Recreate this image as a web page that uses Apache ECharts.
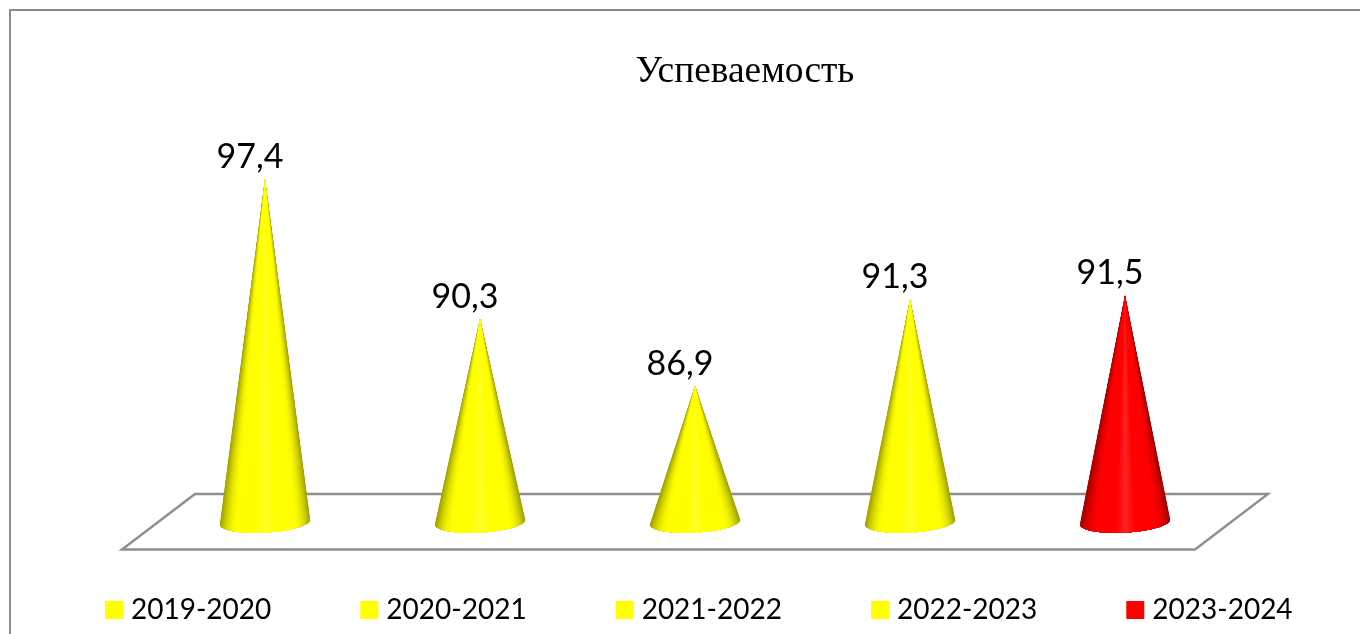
<!DOCTYPE html>
<html><head><meta charset="utf-8">
<script src="https://cdn.jsdelivr.net/npm/echarts@6/dist/echarts.min.js"></script>
<style>html,body{margin:0;padding:0;background:#fff}#c{width:1360px;height:634px}</style>
</head><body><div id="c"></div>
<script>
const categories = ['2019-2020','2020-2021','2021-2022','2022-2023','2023-2024'];
const values = [97.4, 90.3, 86.9, 91.3, 91.5];
const labels = ['97,4','90,3','86,9','91,3','91,5'];
const palette = [
  { base: [255,255,0], dark: [160,160,0], light: [255,255,40] },
  { base: [255,255,0], dark: [160,160,0], light: [255,255,40] },
  { base: [255,255,0], dark: [160,160,0], light: [255,255,40] },
  { base: [255,255,0], dark: [160,160,0], light: [255,255,40] },
  { base: [255,0,0], dark: [160,0,0], light: [255,36,36] }
];
const mix = (a, b, t) => a.map((v, k) => Math.round(v + (b[k] - v) * t));
const shade = (c, u) => {
  const au = Math.abs(u);
  const e = Math.max(0, (au - 0.62) / 0.38);
  const h = Math.max(0, 1 - au / 0.22);
  const rgb = mix(mix(c.base, c.light, h), c.dark, e * e);
  return 'rgb(' + rgb.join(',') + ')';
};
const N = 60;
const cone = (c, text) => function (params, api) {
  const cat = api.value(0), val = api.value(1);
  const tip = api.coord([cat, val]);
  const base = api.coord([cat, 80]);
  const band = api.size([1, 0])[0];
  const rx = band * 0.21, ry = 10.5;
  const t = -3.2 * Math.PI / 180;
  const pts = [];
  for (let i = 0; i <= N; i++) {
    const a = Math.PI * i / N;
    const ex = rx * Math.cos(a), ey = ry * Math.sin(a);
    pts.push([base[0] + ex * Math.cos(t) - ey * Math.sin(t),
              base[1] + ex * Math.sin(t) + ey * Math.cos(t)]);
  }
  const children = [];
  // nested fans, outermost (edge colour) first, so no seams appear between slices
  for (let i = 0; i < N / 2; i++) {
    const u = Math.cos(Math.PI * (i + 0.5) / N);
    children.push({ type: 'polygon',
      shape: { points: [[tip[0], tip[1]]].concat(pts.slice(i, N - i + 1)) },
      style: { fill: shade(c, u) } });
  }
  children.push({ type: 'text', x: tip[0] - 15, y: tip[1] - 22, style: {
    text: text, font: '34px Lato', fill: '#000', align: 'center', verticalAlign: 'middle' } });
  return { type: 'group', children };
};
const series = categories.map((name, i) => ({
  type: 'custom', name, coordinateSystem: 'cartesian2d',
  itemStyle: { color: 'rgb(' + palette[i].base.join(',') + ')' },
  renderItem: cone(palette[i], labels[i]),
  data: [[i, values[i]]], clip: false
}));
const chart = echarts.init(document.getElementById('c'), null, { renderer: 'canvas' });
chart.setOption({
  animation: false,
  backgroundColor: '#fff',
  title: { text: 'Успеваемость', left: 745, top: 54, textAlign: 'center', padding: 0,
    textStyle: { fontFamily: 'Liberation Serif', fontWeight: 'normal', fontSize: 37.4, color: '#000' } },
  grid: { left: 157.5, width: 1075, top: 128, height: 394 },
  xAxis: { type: 'category', data: categories, show: false },
  yAxis: { type: 'value', min: 80, max: 100, show: false },
  legend: { left: 105, top: 596, padding: 0, icon: 'rect', itemWidth: 18, itemHeight: 18, itemGap: 89,
    data: categories, selectedMode: false,
    textStyle: { fontFamily: 'Lato', fontSize: 28, color: '#000', padding: [0, 0, 0, 3] } },
  graphic: [
    { type: 'polygon', z: 0, silent: true, shape: { points: [[122, 549.5], [195, 494], [1268, 494], [1195, 549.5]] },
      style: { fill: 'none', stroke: '#8f8f8f', lineWidth: 2.4 } },
    { type: 'polyline', z: 0, silent: true, shape: { points: [[10, 634], [10, 10], [1360, 10]] },
      style: { fill: 'none', stroke: '#8c8c8c', lineWidth: 2 } }
  ],
  series
});
</script></body></html>
